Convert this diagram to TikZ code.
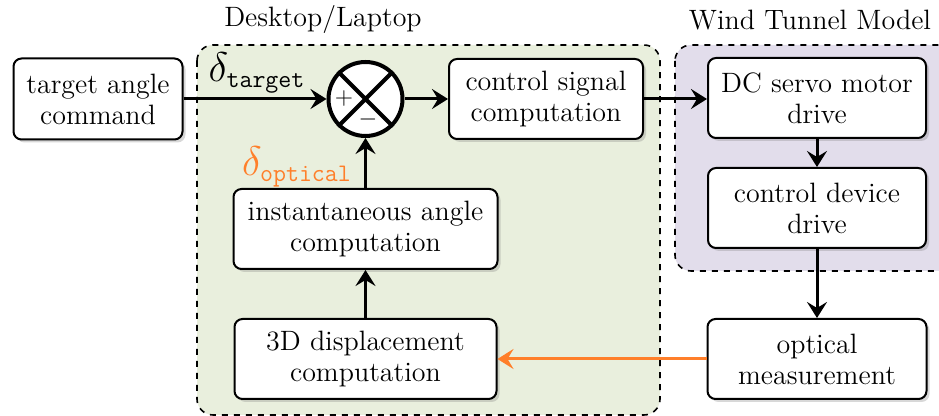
\documentclass[tikz,border=0pt]{standalone}
\usetikzlibrary{arrows.meta,shadows}
\definecolor{deskfill}{RGB}{233,239,221}
\definecolor{windfill}{RGB}{226,221,235}
\definecolor{optorange}{RGB}{255,127,42}
\newcommand{\subtt}[1]{\hbox{\fontsize{12.6}{13}\selectfont\ttfamily #1}}
\begin{document}
\begin{tikzpicture}[x=0.5pt,y=-0.5pt,
  blk/.style={draw, line width=1pt, rounded corners=4pt, fill=white, align=center,
    font=\fontsize{14}{15.5}\selectfont, inner sep=0pt,
    drop shadow={shadow xshift=1.5pt,shadow yshift=-1.5pt,opacity=0.3}},
  region/.style={draw, dashed, line width=0.8pt, rounded corners=8pt},
  arr/.style={line width=1.5pt, -{Stealth[length=8pt,width=10pt,inset=3pt]}},
  lbl/.style={font=\fontsize{14}{15.5}\selectfont},
  sym/.style={font=\huge}]
\clip (0,0) rectangle (939,416);
\fill[white] (0,0) rectangle (939,416);
\draw[region, fill=deskfill] (197,45) rectangle (660,415);
\draw[region, fill=windfill] (675,45) rectangle (965,271);
\node[lbl] (deskT) at (323,20) {Desktop/Laptop};
\node[lbl] (windT) at (810,20) {Wind Tunnel Model};
\node[blk, minimum width=84.5pt, minimum height=40.5pt] (tac) at (98,99) {target angle\\command};
\node[blk, minimum width=97pt, minimum height=40pt] (csc) at (546,99) {control signal\\computation};
\node[blk, minimum width=109pt, minimum height=40pt] (dc) at (817,98) {DC servo motor\\drive};
\node[blk, minimum width=109pt, minimum height=40pt] (cdd) at (817,208) {control device\\drive};
\node[blk, minimum width=109.5pt, minimum height=40pt] (om) at (817,359) {optical\\measurement};
\node[blk, minimum width=132pt, minimum height=40pt] (iac) at (365.5,229) {instantaneous angle\\computation};
\node[blk, minimum width=131pt, minimum height=40pt] (dsp) at (365.5,359) {3D displacement\\computation};
\node[circle, draw, line width=2pt, fill=white, minimum size=37pt, inner sep=0pt] (sum) at (365.5,99) {};
\draw[line width=2pt] (sum.45) -- (sum.225) (sum.135) -- (sum.315);
\node[font=\large, inner sep=0pt] (plus) at (344,99) {$+$};
\node[font=\large, inner sep=0pt] (minus) at (368,120) {$-$};
\draw[arr] (tac.east) -- (sum.west);
\draw[arr] (sum.east) -- (csc.west);
\draw[arr] (csc.east) -- (csc.east -| dc.west);
\draw[arr] (dc) -- (cdd);
\draw[arr] (cdd) -- (om);
\draw[arr, optorange] (om) -- (dsp);
\draw[arr] (dsp) -- (iac);
\draw[arr] (iac) -- (sum);
\node[sym, anchor=south, inner sep=1pt] (dt) at (257,96) {$\delta_{\subtt{target}}$};
\node[sym, text=optorange] (dopt) at (297,167) {$\delta_{\subtt{optical}}$};
\end{tikzpicture}
\end{document}
